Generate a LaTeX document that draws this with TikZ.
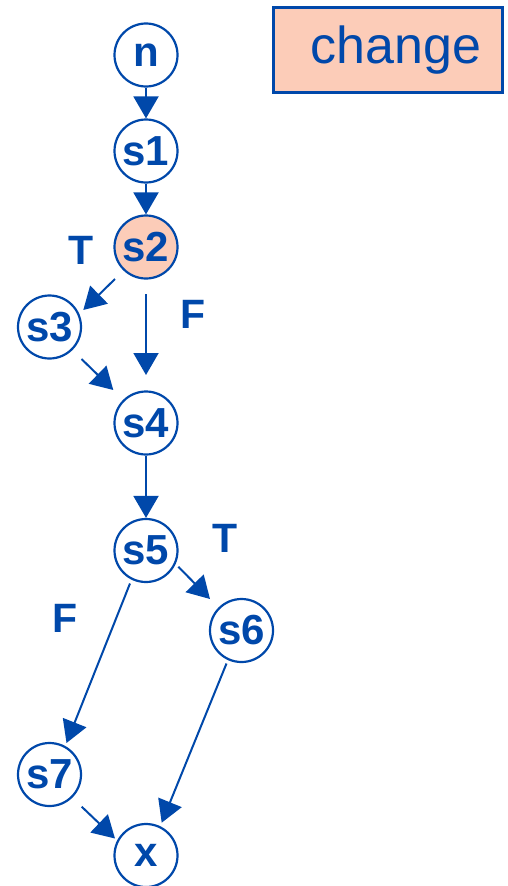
\documentclass[tikz,border=0pt]{standalone}
\usepackage{fontspec}
\setmainfont{Liberation Sans}
\usetikzlibrary{calc,arrows.meta}
\definecolor{fgblue}{RGB}{0,72,170}
\definecolor{peach}{RGB}{252,204,184}
\tikzset{
  stmt/.style={circle,draw=fgblue,line width=2.2pt,fill=white,minimum size=63pt,inner sep=0pt,
    text=fgblue,font=\fontsize{42}{42}\selectfont\bfseries},
  branch/.style={text=fgblue,font=\fontsize{41}{41}\selectfont\bfseries,inner sep=0pt},
  arr/.style={draw=fgblue,line width=2pt,-{Triangle[length=22pt,width=25pt]}},
  changebox/.style={rectangle,draw=fgblue,line width=2.2pt,fill=peach,minimum width=229pt,
    minimum height=85pt,inner sep=0pt,text=fgblue,font=\fontsize{52}{52}\selectfont}
}
\begin{document}
\begin{tikzpicture}[x=1pt,y=-1pt]
\useasboundingbox (0,0) rectangle (508,886);
\node[changebox] (chg) at (388,50) {\hspace*{16pt}\raisebox{-5pt}{change}};
\node[stmt] (n) at (146,55) {\raisebox{-2pt}{n}};
\node[stmt] (s1) at (146,151) {\raisebox{-2pt}{s1}};
\node[stmt,fill=peach] (s2) at (146,247) {\raisebox{-2pt}{s2}};
\node[stmt] (s3) at (49.5,327) {\raisebox{-2pt}{s3}};
\node[stmt] (s4) at (146,423) {\raisebox{-2pt}{s4}};
\node[stmt] (s5) at (146,550.5) {\raisebox{-2pt}{s5}};
\node[stmt] (s6) at (241.5,630.5) {\raisebox{-2pt}{s6}};
\node[stmt] (s7) at (49.5,774.5) {\raisebox{-2pt}{s7}};
\node[stmt] (x) at (146,855.5) {\raisebox{-2pt}{x}};
\node[branch] (t1) at (81,250) {T};
\node[branch] (f1) at (193.5,314) {F};
\node[branch] (t2) at (225,538.5) {T};
\node[branch] (f2) at (65.5,618) {F};
\draw[arr] (n) -- (s1);
\draw[arr] (s1) -- (s2);
\draw[arr] ($(s2)+(-31,32)$) -- ($(s3)+(33.8,-17)$);
\draw[arr] ($(s2)+(0,47)$) -- ($(s4)+(0,-48)$);
\draw[arr] ($(s3)+(32,32)$) -- ($(s4)+(-32.7,-33)$);
\draw[arr] (s4) -- (s5);
\draw[arr] ($(s5)+(32.3,16.2)$) -- ($(s6)+(-31.5,-31.5)$);
\draw[arr] ($(s5)+(-16,33)$) -- ($(s7)+(17,-31.5)$);
\draw[arr] ($(s6)+(-15,33)$) -- ($(x)+(15.7,-32.8)$);
\draw[arr] ($(s7)+(32.2,32.2)$) -- ($(x)+(-31,-17)$);
\end{tikzpicture}
\end{document}
